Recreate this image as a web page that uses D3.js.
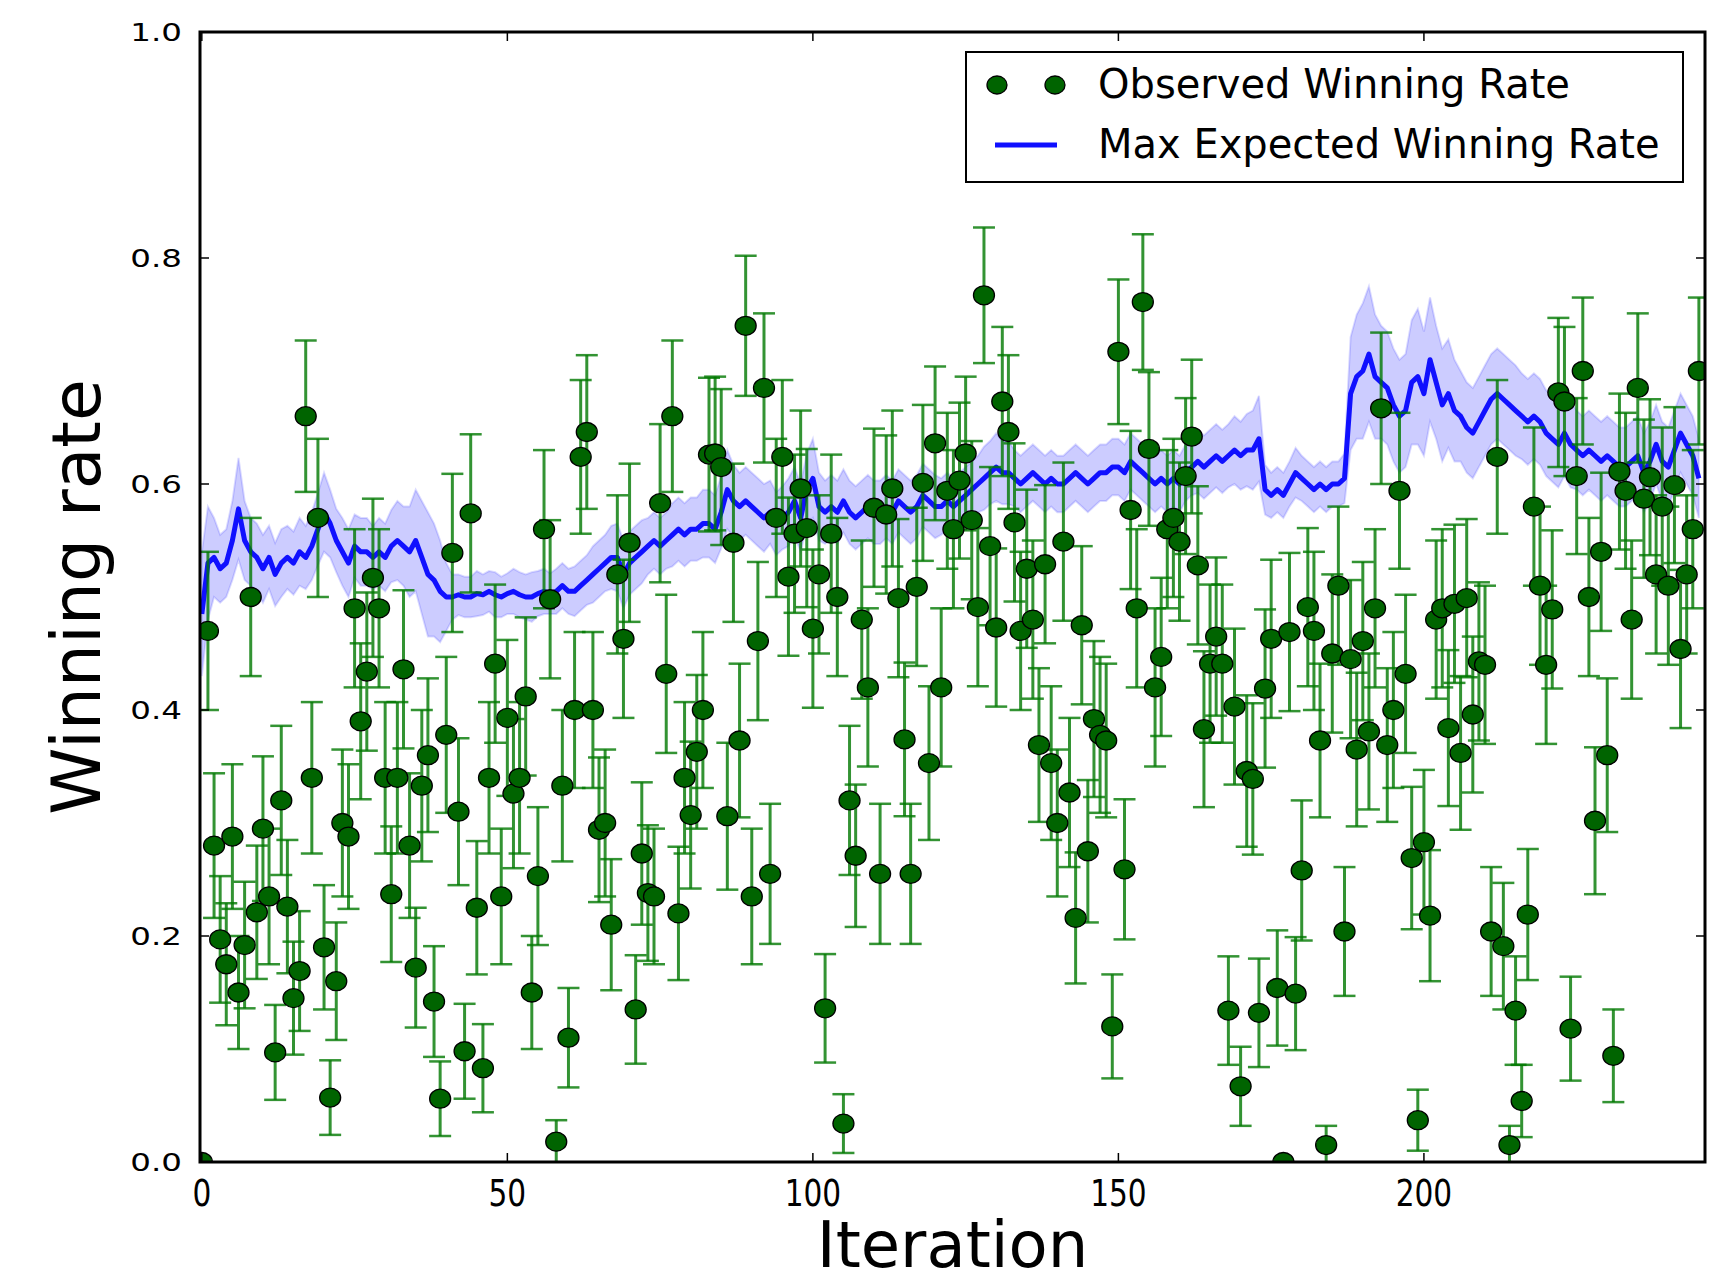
<!DOCTYPE html>
<html><head><meta charset="utf-8">
<script src="https://cdn.jsdelivr.net/npm/d3@7"></script>
<style>
html,body{margin:0;padding:0;background:#fff;}
svg{display:block;font-family:"DejaVu Sans",sans-serif;}
</style></head>
<body>
<svg id="chart" width="1727" height="1286"></svg>
<script>
// Observed winning rate per iteration (index = iteration)
const observed = [
0.0,0.47,0.28,0.197,0.175,0.288,0.15,0.192,0.5,0.221,
0.295,0.235,0.097,0.32,0.226,0.145,0.169,0.66,0.34,0.57,
0.19,0.057,0.16,0.3,0.288,0.49,0.39,0.434,0.517,0.49,
0.34,0.237,0.34,0.436,0.28,0.172,0.333,0.36,0.142,0.056,
0.378,0.539,0.31,0.098,0.574,0.225,0.083,0.34,0.441,0.235,
0.393,0.326,0.34,0.412,0.15,0.253,0.56,0.498,0.018,0.333,
0.11,0.4,0.624,0.646,0.4,0.294,0.3,0.21,0.52,0.463,
0.548,0.135,0.273,0.238,0.235,0.583,0.432,0.66,0.22,0.34,
0.307,0.363,0.4,0.626,0.627,0.615,0.306,0.548,0.373,0.74,
0.235,0.461,0.685,0.255,0.57,0.624,0.518,0.556,0.596,0.561,
0.472,0.52,0.136,0.556,0.5,0.034,0.32,0.271,0.48,0.42,
0.579,0.255,0.573,0.596,0.499,0.374,0.255,0.509,0.601,0.353,
0.636,0.42,0.594,0.56,0.603,0.627,0.568,0.491,0.767,0.545,
0.473,0.673,0.646,0.566,0.47,0.525,0.48,0.369,0.529,0.353,
0.3,0.549,0.327,0.216,0.475,0.275,0.392,0.378,0.373,0.12,
0.717,0.259,0.577,0.49,0.761,0.631,0.42,0.447,0.56,0.57,
0.549,0.607,0.642,0.528,0.383,0.441,0.465,0.441,0.134,0.403,
0.067,0.346,0.339,0.132,0.419,0.463,0.154,0.0,0.469,0.149,
0.258,0.491,0.47,0.373,0.015,0.45,0.51,0.204,0.445,0.365,
0.461,0.381,0.49,0.667,0.369,0.4,0.594,0.432,0.269,0.037,
0.283,0.218,0.48,0.49,0.384,0.494,0.362,0.499,0.396,0.443,
0.44,0.204,0.624,0.191,0.015,0.134,0.054,0.219,0.58,0.51,
0.44,0.489,0.681,0.673,0.118,0.607,0.7,0.5,0.302,0.54,
0.36,0.094,0.611,0.594,0.48,0.685,0.587,0.606,0.52,0.58,
0.51,0.599,0.454,0.52,0.56,0.7
];
// Error bar half-length per iteration
const observedErr = [
0,0.07,0.064,0.056,0.054,0.064,0.05,0.056,0.07,0.059,
0.064,0.06,0.042,0.066,0.059,0.05,0.053,0.067,0.067,0.07,
0.055,0.033,0.052,0.065,0.064,0.07,0.069,0.07,0.07,0.07,
0.067,0.06,0.067,0.07,0.064,0.053,0.067,0.068,0.049,0.033,
0.069,0.07,0.065,0.042,0.07,0.059,0.039,0.067,0.07,0.06,
0.069,0.066,0.067,0.07,0.05,0.061,0.07,0.07,0.019,0.067,
0.044,0.069,0.068,0.068,0.069,0.064,0.065,0.058,0.07,0.07,
0.07,0.048,0.063,0.06,0.06,0.07,0.07,0.067,0.059,0.067,
0.065,0.068,0.069,0.068,0.068,0.069,0.065,0.07,0.068,0.062,
0.06,0.07,0.066,0.062,0.07,0.068,0.07,0.07,0.069,0.07,
0.07,0.07,0.048,0.07,0.07,0.026,0.066,0.063,0.07,0.07,
0.07,0.062,0.07,0.069,0.07,0.068,0.062,0.07,0.069,0.068,
0.068,0.07,0.069,0.07,0.069,0.068,0.07,0.07,0.06,0.07,
0.07,0.066,0.068,0.07,0.07,0.07,0.07,0.068,0.07,0.068,
0.065,0.07,0.066,0.058,0.07,0.063,0.069,0.069,0.068,0.046,
0.064,0.062,0.07,0.07,0.06,0.068,0.07,0.07,0.07,0.07,
0.07,0.069,0.068,0.07,0.069,0.07,0.07,0.07,0.048,0.069,
0.035,0.067,0.067,0.048,0.07,0.07,0.051,0,0.07,0.05,
0.062,0.07,0.07,0.068,0.017,0.07,0.07,0.057,0.07,0.068,
0.07,0.069,0.07,0.067,0.068,0.069,0.069,0.07,0.063,0.027,
0.064,0.058,0.07,0.07,0.069,0.07,0.068,0.07,0.069,0.07,
0.07,0.057,0.068,0.056,0.017,0.048,0.032,0.058,0.07,0.07,
0.07,0.07,0.066,0.066,0.046,0.069,0.065,0.07,0.065,0.07,
0.068,0.041,0.069,0.069,0.07,0.066,0.07,0.069,0.07,0.07,
0.07,0.069,0.07,0.07,0.07,0.065
];
// Max expected winning rate per iteration
const maxExpected = [
0.485,0.53,0.535,0.525,0.53,0.55,0.578,0.55,0.54,0.535,
0.525,0.535,0.52,0.53,0.535,0.53,0.54,0.535,0.545,0.56,
0.575,0.565,0.55,0.54,0.53,0.545,0.54,0.54,0.535,0.54,
0.535,0.545,0.55,0.545,0.54,0.55,0.535,0.52,0.515,0.505,
0.5,0.5,0.502,0.5,0.5,0.503,0.502,0.505,0.502,0.5,
0.503,0.505,0.502,0.5,0.5,0.503,0.505,0.503,0.505,0.51,
0.505,0.505,0.51,0.515,0.52,0.525,0.53,0.535,0.535,0.52,
0.53,0.535,0.54,0.545,0.55,0.545,0.55,0.555,0.56,0.555,
0.56,0.56,0.565,0.565,0.56,0.575,0.595,0.585,0.58,0.585,
0.58,0.575,0.57,0.575,0.565,0.57,0.575,0.585,0.57,0.595,
0.605,0.58,0.575,0.58,0.575,0.585,0.575,0.57,0.575,0.58,
0.575,0.575,0.58,0.575,0.585,0.58,0.575,0.58,0.59,0.585,
0.58,0.58,0.585,0.58,0.585,0.59,0.595,0.6,0.605,0.61,
0.615,0.61,0.61,0.605,0.6,0.605,0.61,0.605,0.6,0.605,
0.6,0.6,0.605,0.61,0.605,0.6,0.605,0.61,0.61,0.615,
0.615,0.61,0.62,0.615,0.61,0.605,0.6,0.605,0.6,0.605,
0.6,0.61,0.615,0.62,0.615,0.62,0.625,0.62,0.625,0.63,
0.625,0.63,0.63,0.64,0.595,0.59,0.595,0.59,0.6,0.61,
0.605,0.6,0.595,0.6,0.595,0.6,0.6,0.605,0.68,0.695,
0.7,0.715,0.695,0.69,0.685,0.67,0.66,0.665,0.69,0.695,
0.68,0.71,0.69,0.67,0.68,0.665,0.66,0.65,0.645,0.655,
0.665,0.675,0.68,0.675,0.67,0.665,0.66,0.655,0.66,0.655,
0.645,0.64,0.635,0.645,0.635,0.63,0.625,0.63,0.625,0.62,
0.625,0.62,0.615,0.615,0.62,0.625,0.61,0.62,0.635,0.62,
0.615,0.63,0.645,0.635,0.625,0.605
];
// Half-width of the shaded band around the max expected rate
const maxExpectedBand = [
0.055,0.05,0.035,0.03,0.03,0.035,0.045,0.035,0.03,0.03,
0.03,0.028,0.028,0.03,0.028,0.028,0.03,0.028,0.03,0.032,
0.035,0.03,0.028,0.03,0.03,0.028,0.03,0.03,0.028,0.03,
0.03,0.032,0.035,0.035,0.04,0.045,0.05,0.055,0.05,0.045,
0.03,0.02,0.018,0.018,0.018,0.02,0.018,0.018,0.02,0.018,
0.018,0.02,0.02,0.02,0.022,0.02,0.02,0.018,0.02,0.02,
0.02,0.022,0.022,0.022,0.025,0.025,0.025,0.028,0.03,0.03,
0.028,0.028,0.028,0.025,0.025,0.025,0.025,0.028,0.028,0.028,
0.028,0.028,0.03,0.03,0.03,0.032,0.035,0.032,0.03,0.03,
0.03,0.03,0.03,0.028,0.028,0.028,0.03,0.03,0.03,0.032,
0.035,0.03,0.028,0.028,0.028,0.028,0.028,0.028,0.028,0.028,
0.028,0.028,0.028,0.028,0.028,0.028,0.028,0.028,0.028,0.028,
0.028,0.025,0.025,0.025,0.025,0.025,0.025,0.025,0.028,0.028,
0.03,0.028,0.028,0.025,0.025,0.025,0.025,0.025,0.025,0.025,
0.025,0.025,0.025,0.025,0.025,0.025,0.025,0.025,0.025,0.025,
0.025,0.025,0.025,0.025,0.025,0.025,0.025,0.025,0.025,0.025,
0.025,0.025,0.025,0.028,0.028,0.028,0.028,0.028,0.028,0.03,
0.03,0.032,0.035,0.038,0.022,0.02,0.02,0.02,0.02,0.022,
0.02,0.02,0.02,0.02,0.02,0.02,0.02,0.022,0.05,0.055,
0.06,0.06,0.055,0.05,0.05,0.05,0.05,0.05,0.055,0.06,
0.055,0.055,0.05,0.05,0.048,0.045,0.04,0.04,0.04,0.04,
0.04,0.04,0.04,0.04,0.04,0.04,0.038,0.038,0.038,0.038,
0.038,0.038,0.038,0.038,0.038,0.035,0.035,0.035,0.035,0.035,
0.035,0.035,0.035,0.035,0.035,0.035,0.035,0.035,0.035,0.035,
0.035,0.035,0.035,0.035,0.035,0.035
];
const xTicks = [0, 50, 100, 150, 200];
const yTicks = [0.0, 0.2, 0.4, 0.6, 0.8, 1.0];
const legendLabels = ["Observed Winning Rate", "Max Expected Winning Rate"];
const xLabel = "Iteration";
const yLabel = "Winning rate";

const svg = d3.select("#chart");
const L = 200, R = 1705, T = 32, B = 1162;
const x = d3.scaleLinear().domain([-0.3, 246]).range([L, R]);
const y = d3.scaleLinear().domain([0, 1]).range([B, T]);

svg.append("defs").append("clipPath").attr("id","clip")
  .append("rect").attr("x",L).attr("y",T).attr("width",R-L).attr("height",B-T);

const plot = svg.append("g").attr("clip-path","url(#clip)");
const idx = d3.range(maxExpected.length);

// band
plot.append("path")
  .datum(idx)
  .attr("d", d3.area().x(i=>x(i)).y0(i=>y(maxExpected[i]-maxExpectedBand[i])).y1(i=>y(maxExpected[i]+maxExpectedBand[i])))
  .attr("fill","rgba(0,0,255,0.2)")
  .attr("stroke","rgba(0,0,255,0.14)")
  .attr("stroke-width",2);
// line
plot.append("path")
  .datum(idx)
  .attr("d", d3.line().x(i=>x(i)).y(i=>y(maxExpected[i])))
  .attr("fill","none").attr("stroke","#1010ff").attr("stroke-width",5)
  .attr("stroke-linejoin","round");

// error bars
const eb = plot.append("g").attr("stroke","#007800").attr("stroke-opacity",0.8).attr("stroke-width",3);
observed.forEach((v,i)=>{
  const e = observedErr[i];
  if (e <= 0) return;
  const cx = x(i), y0 = y(v-e), y1 = y(v+e);
  eb.append("line").attr("x1",cx).attr("x2",cx).attr("y1",y0).attr("y2",y1);
  eb.append("line").attr("x1",cx-11).attr("x2",cx+11).attr("y1",y0).attr("y2",y0).attr("stroke-width",2.5);
  eb.append("line").attr("x1",cx-11).attr("x2",cx+11).attr("y1",y1).attr("y2",y1).attr("stroke-width",2.5);
});
// markers
plot.append("g").selectAll("ellipse").data(observed).join("ellipse")
  .attr("cx",(d,i)=>x(i)).attr("cy",d=>y(d))
  .attr("rx",10.5).attr("ry",9.5)
  .attr("fill","#006400").attr("stroke","#000").attr("stroke-width",1.3);

// ticks (inside, all four sides)
const tk = svg.append("g").attr("stroke","#000").attr("stroke-width",1.5);
xTicks.forEach(t=>{
  tk.append("line").attr("x1",x(t)).attr("x2",x(t)).attr("y1",B).attr("y2",B-9);
  tk.append("line").attr("x1",x(t)).attr("x2",x(t)).attr("y1",T).attr("y2",T+9);
});
yTicks.forEach(t=>{
  tk.append("line").attr("x1",L).attr("x2",L+9).attr("y1",y(t)).attr("y2",y(t));
  tk.append("line").attr("x1",R).attr("x2",R-9).attr("y1",y(t)).attr("y2",y(t));
});
// frame
svg.append("rect").attr("x",L).attr("y",T).attr("width",R-L).attr("height",B-T)
  .attr("fill","none").attr("stroke","#000").attr("stroke-width",3);

// tick labels
xTicks.forEach(t=>{
  svg.append("text").attr("transform",`translate(${x(t)},1206) scale(0.8,1)`)
    .attr("text-anchor","middle").attr("font-size",37).attr("fill","#000").text(t);
});
yTicks.forEach(t=>{
  svg.append("text").attr("transform",`translate(182,${y(t)+9}) scale(1.3,1)`)
    .attr("text-anchor","end").attr("font-size",25).attr("fill","#000").text(d3.format(".1f")(t));
});
// axis labels
svg.append("text").attr("x",(L+R)/2).attr("y",1267).attr("text-anchor","middle")
  .attr("font-size",64).attr("fill","#000").text(xLabel);
svg.append("text").attr("transform",`translate(100,${(T+B)/2}) rotate(-90)`)
  .attr("text-anchor","middle").attr("font-size",68).attr("fill","#000").text(yLabel);

// legend
const lg = svg.append("g");
lg.append("rect").attr("x",966).attr("y",52).attr("width",717).attr("height",130)
  .attr("fill","#fff").attr("stroke","#000").attr("stroke-width",2);
[997,1055].forEach(cx=>{
  lg.append("ellipse").attr("cx",cx).attr("cy",85).attr("rx",10).attr("ry",9)
    .attr("fill","#006400").attr("stroke","#000").attr("stroke-width",1.3);
});
lg.append("line").attr("x1",995).attr("x2",1057).attr("y1",145).attr("y2",145)
  .attr("stroke","#1010ff").attr("stroke-width",5);
lg.append("text").attr("x",1098).attr("y",98).attr("font-size",40).attr("fill","#000").text(legendLabels[0]);
lg.append("text").attr("x",1098).attr("y",158).attr("font-size",40).attr("fill","#000").text(legendLabels[1]);
</script>
</body></html>
